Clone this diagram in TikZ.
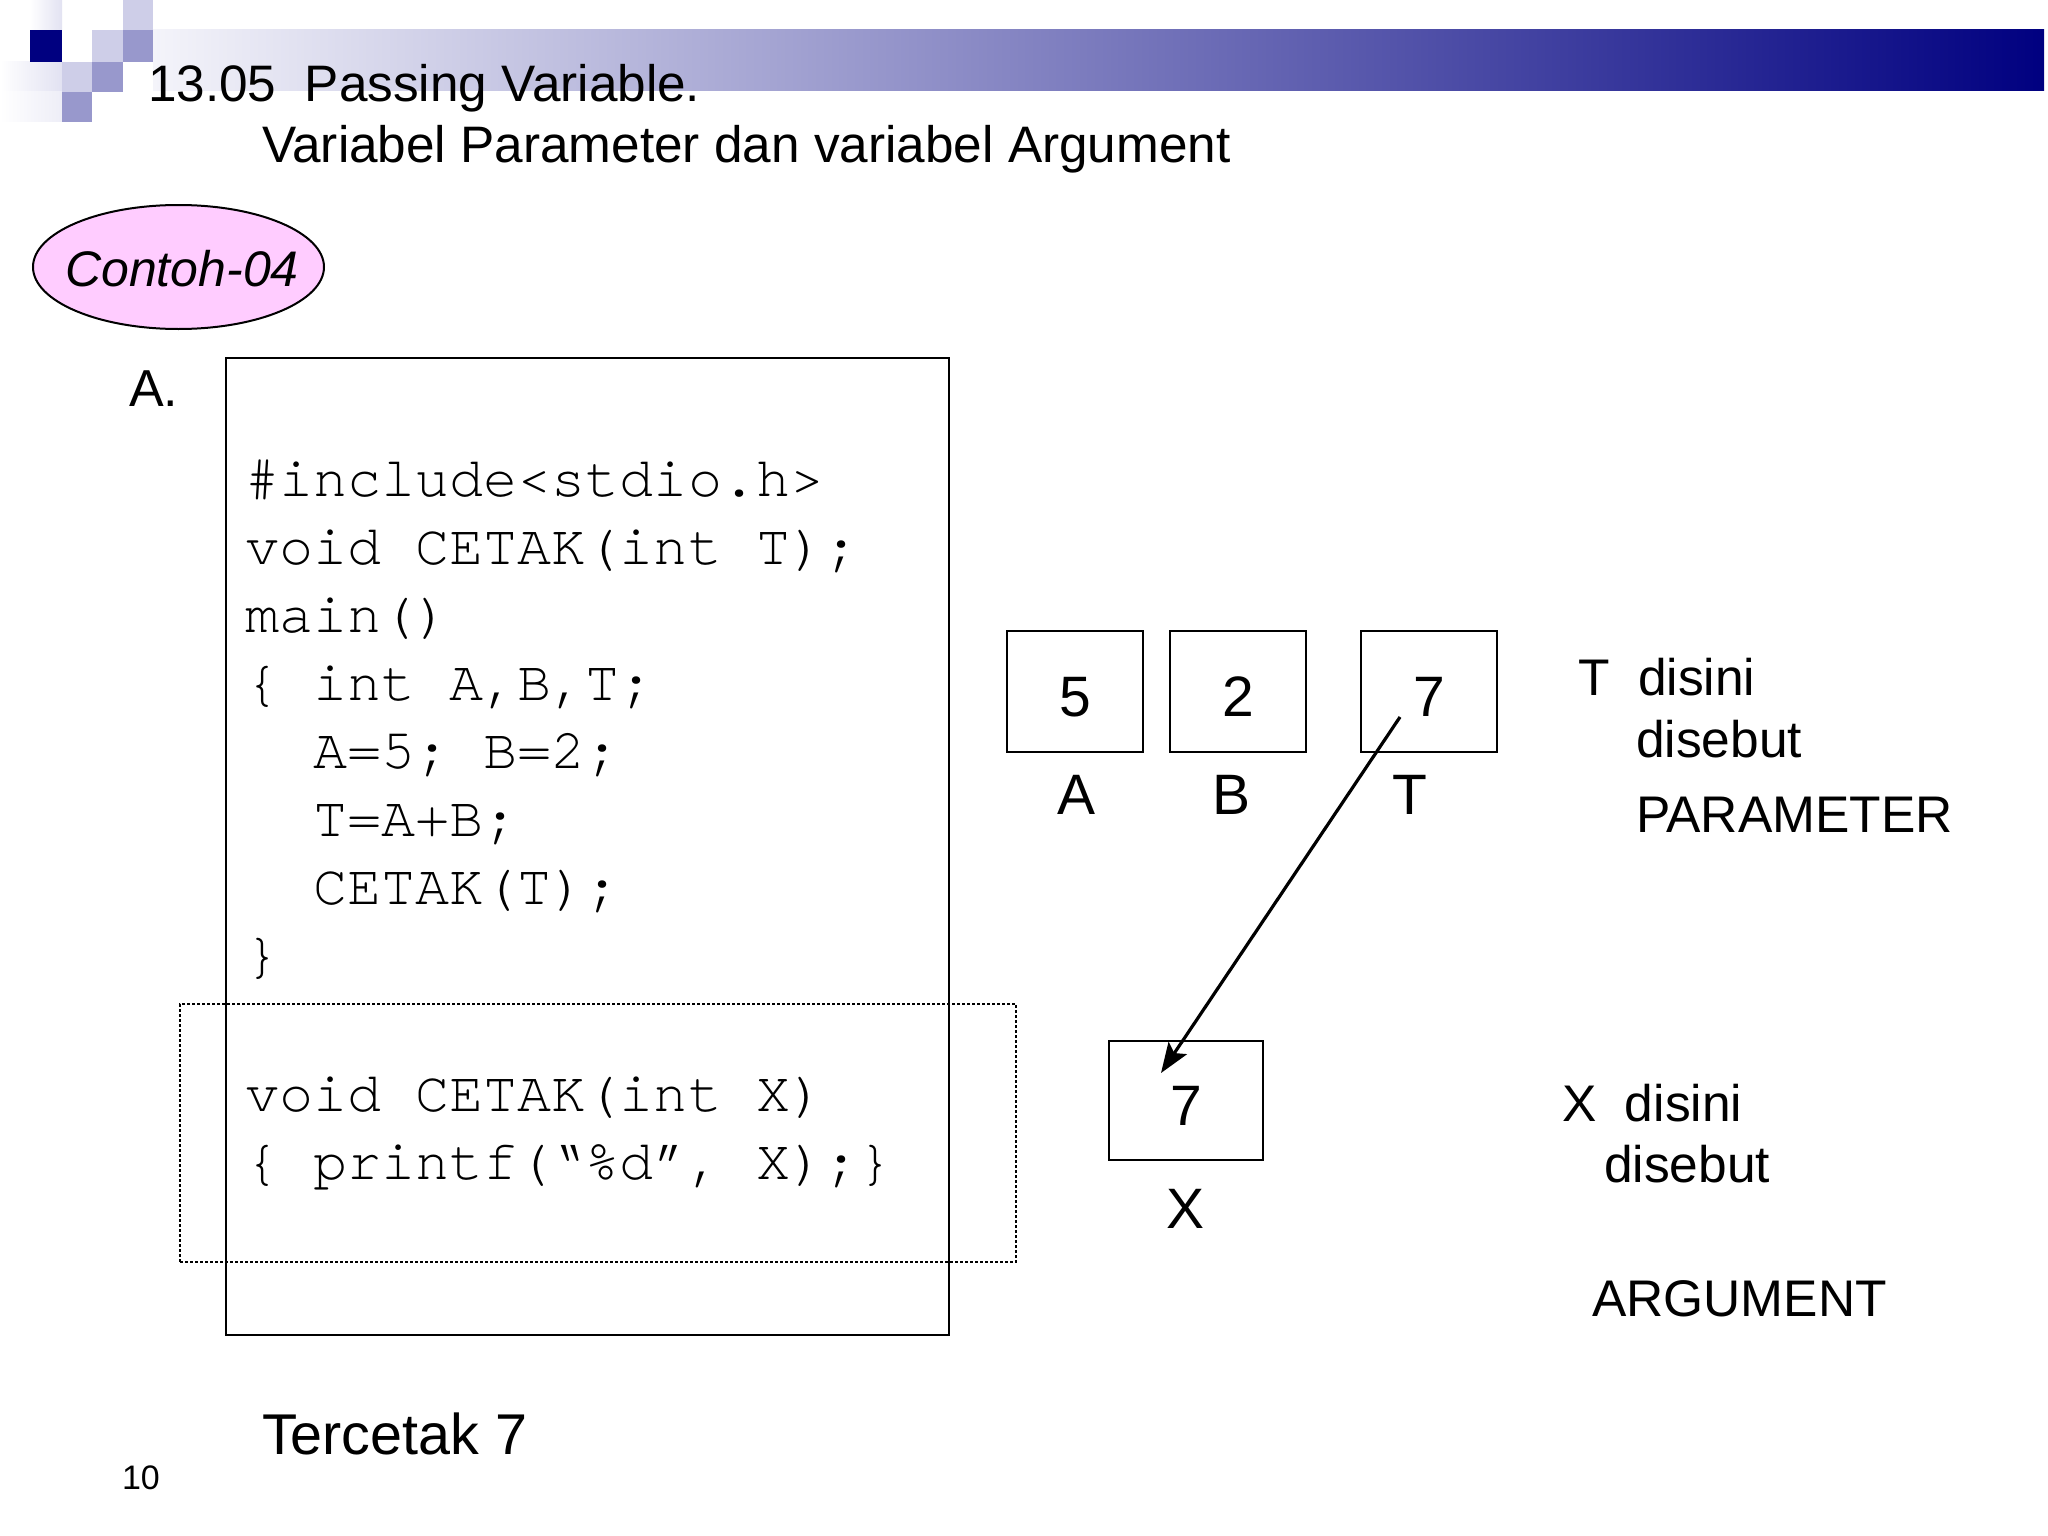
\documentclass[tikz,border=0pt]{standalone}
\usepackage{fontspec}
\setmainfont{Liberation Sans}
\newfontfamily\codefont{TeX Gyre Cursor}
\usetikzlibrary{arrows.meta,shapes.geometric}
\definecolor{navy}{RGB}{0,0,128}
\definecolor{logolight}{RGB}{206,206,232}
\definecolor{logomid}{RGB}{152,152,204}
\definecolor{logofaint}{RGB}{226,226,242}
\definecolor{barleft}{RGB}{244,244,250}
\definecolor{barmid}{RGB}{112,108,182}
\definecolor{pinkfill}{RGB}{255,204,255}
\tikzset{
  txt/.style={anchor=base west, inner sep=0pt, outer sep=0pt},
  titlefont/.style={txt, font={\fontsize{51.3}{60}\selectfont}},
  bodyfont/.style={txt, font={\fontsize{51.5}{60}\selectfont}},
  codeline/.style={txt, font={\codefont\fontsize{56.8}{68}\selectfont}},
  valbox/.style={draw=black, line width=2.5pt, inner sep=0pt, outer sep=0pt,
    font={\fontsize{57}{60}\selectfont}, text height=49pt, text depth=0pt},
  varlabel/.style={anchor=base, inner sep=0pt, font={\fontsize{57}{60}\selectfont}},
  frame/.style={draw=black, line width=2.5pt, inner sep=0pt, outer sep=0pt},
  dotframe/.style={draw=black, line width=2.5pt, dash pattern=on 2.6pt off 2.4pt, inner sep=0pt, outer sep=0pt},
  passarrow/.style={draw=black, line width=3.2pt, -{Stealth[length=30pt,width=22pt,inset=6pt]}}
}
\begin{document}
\begin{tikzpicture}[x=1pt,y=-1pt]
\useasboundingbox (0,0) rectangle (2048,1536);
\fill[white] (0,0) rectangle (2048,1536);

% header bar and logo
\shade[left color=barleft, middle color=barmid, right color=navy] (153,30) rectangle (2044,91);
\shade[left color=white, right color=logofaint] (30,0) rectangle (62,30);
\shade[left color=white, right color=logofaint] (0,62) rectangle (62,92);
\shade[left color=white, right color=logofaint!60] (0,92) rectangle (62,122);
\fill[logolight] (123,0) rectangle (153,30);
\fill[navy] (30,30) rectangle (62,62);
\fill[logolight] (92,30) rectangle (123,62);
\fill[logomid] (123,30) rectangle (153,62);
\fill[logolight] (62,62) rectangle (92,92);
\fill[logomid] (92,62) rectangle (123,92);
\fill[logomid] (62,92) rectangle (92,122);

% titles
\node[titlefont] (title1) at (148,102) {13.05\ \ Passing Variable.};
\node[titlefont] (title2) at (262,163) {Variabel Parameter dan variabel Argument};

% Contoh ellipse
\node[ellipse, draw=black, line width=2pt, fill=pinkfill, minimum width=291pt, minimum height=124pt, inner sep=0pt] (contohshape) at (178.5,267) {};
\node[inner sep=0pt, font={\fontsize{50}{60}\selectfont\itshape}] (contoh) at (182,269) {Contoh-04};

\node[txt, font={\fontsize{52}{60}\selectfont}] (labelA) at (129,406) {A.};

% code frames
\node[frame, minimum width=723pt, minimum height=977pt] (codebox) at (587.5,846.5) {};
\node[dotframe, minimum width=836pt, minimum height=258pt] (funcbox) at (598,1133) {};

% code lines
\node[codeline] (c1) at (245,496) {\#include<stdio.h>};
\node[codeline] (c2) at (245,564) {void CETAK(int T);};
\node[codeline] (c3) at (245,632) {main()};
\node[codeline] (c4) at (245,700) {\{ int A,B,T;};
\node[codeline] (c5) at (313,768) {A=5; B=2;};
\node[codeline] (c6) at (313,836) {T=A+B;};
\node[codeline] (c7) at (313,904) {CETAK(T);};
\node[codeline] (c8) at (245,972) {\}};
\node[codeline] (c9) at (245,1111) {void CETAK(int X)};
\node[codeline] (c10) at (245,1179) {\{ printf(“\%d”, X);\}};

% memory boxes
\node[valbox, minimum width=136pt, minimum height=121pt] (boxA) at (1075,691.5) {5};
\node[valbox, minimum width=136pt, minimum height=121pt] (boxB) at (1238,691.5) {2};
\node[valbox, minimum width=136pt, minimum height=121pt] (boxT) at (1429,691.5) {7};
\node[valbox, minimum width=154pt, minimum height=119pt] (boxX) at (1186,1100.5) {7};

\node[varlabel] (nameA) at (1076,814) {A};
\node[varlabel] (nameB) at (1231,814) {B};
\node[varlabel] (nameT) at (1410,814) {T};
\node[varlabel] (nameX) at (1185,1228) {X};

% arrow T -> X
\coordinate (tfrom) at (1400,717);
\coordinate (xto) at (1161,1073);
\draw[passarrow] (tfrom) -- (xto);

% explanations
\node[bodyfont] (tdisini) at (1578,695) {T\ \ disini};
\node[bodyfont] (tdisebut) at (1636,757) {disebut};
\node[bodyfont] (tparam) at (1636,832) {PARAMETER};
\node[bodyfont] (xdisini) at (1562,1121) {X\ \ disini};
\node[bodyfont] (xdisebut) at (1604,1182) {disebut};
\node[bodyfont] (xarg) at (1592,1316) {ARGUMENT};

% footer
\node[txt, font={\fontsize{57.5}{60}\selectfont}] (tercetak) at (262,1454) {Tercetak 7};
\node[txt, font={\fontsize{34}{40}\selectfont}] (pagenum) at (122,1489) {10};
\end{tikzpicture}
\end{document}
